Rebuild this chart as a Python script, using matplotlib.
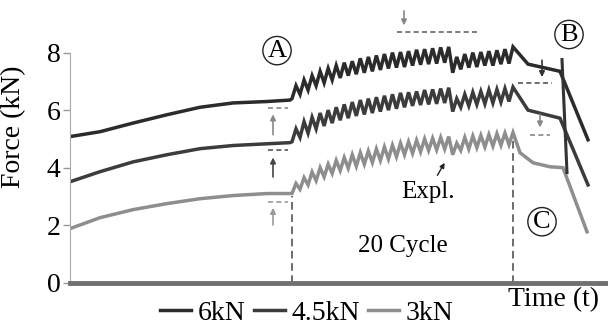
#!/usr/bin/env python3
"""Force vs time schematic for three load levels (6, 4.5 and 3 kN)."""
import matplotlib
matplotlib.use("Agg")
import matplotlib.pyplot as plt
import numpy as np

plt.rcParams["font.family"] = ["Liberation Serif", "DejaVu Serif"]

# ramp-up phase (before cycling)
t_ramp = [0, 30, 63, 97, 130, 163, 197, 220]
f6_ramp = [5.08, 5.25, 5.55, 5.84, 6.10, 6.25, 6.30, 6.35]
f45_ramp = [3.51, 3.86, 4.20, 4.45, 4.66, 4.77, 4.83, 4.87]
f3_ramp = [1.88, 2.26, 2.54, 2.75, 2.92, 3.03, 3.10, 3.10]

# cyclic phase: troughs / peaks of each load cycle
cycle_start, cycle_end = 222, 443
f6_trough = [6.40, 6.55, 6.70, 6.85, 6.95, 7.05, 7.12, 7.20, 7.25, 7.30, 7.35, 7.40, 7.45, 7.48,
             7.50, 7.55, 7.58, 7.60, 7.62, 7.65, 7.30, 7.42, 7.48, 7.50, 7.55, 7.55, 7.60, 7.62]
f6_peak = [6.85, 7.05, 7.20, 7.35, 7.45, 7.55, 7.65, 7.70, 7.80, 7.85, 7.90, 7.95, 8.00, 8.02,
           8.05, 8.10, 8.12, 8.15, 8.18, 8.20, 7.85, 7.95, 8.00, 8.02, 8.05, 8.08, 8.12, 8.20]
f45_trough = [4.90, 5.05, 5.20, 5.35, 5.45, 5.55, 5.65, 5.72, 5.80, 5.85, 5.90, 5.95, 6.00, 6.05,
              6.10, 6.15, 6.18, 6.20, 6.22, 6.25, 5.95, 6.10, 6.15, 6.20, 6.22, 6.25, 6.28, 6.30]
f45_peak = [5.35, 5.60, 5.75, 5.90, 6.00, 6.10, 6.20, 6.28, 6.35, 6.40, 6.45, 6.50, 6.55, 6.60,
            6.62, 6.65, 6.70, 6.72, 6.75, 6.78, 6.40, 6.55, 6.62, 6.65, 6.70, 6.72, 6.75, 6.80]
f3_trough = [3.10, 3.25, 3.40, 3.55, 3.68, 3.80, 3.90, 3.98, 4.05, 4.12, 4.18, 4.25, 4.30, 4.38,
             4.45, 4.50, 4.55, 4.60, 4.62, 4.65, 4.45, 4.60, 4.65, 4.70, 4.72, 4.75, 4.78, 4.80]
f3_peak = [3.45, 3.65, 3.85, 4.00, 4.12, 4.25, 4.35, 4.45, 4.52, 4.58, 4.65, 4.72, 4.78, 4.85,
           4.90, 4.95, 5.00, 5.02, 5.05, 5.08, 4.85, 5.05, 5.10, 5.12, 5.15, 5.18, 5.20, 5.22]

# unloading / failure tail
t6_tail = [458, 490, 518]
f6_tail = [7.60, 7.35, 4.97]
t45_tail = [458, 490, 518]
f45_tail = [6.00, 5.72, 3.40]
t3_tail = [450, 463, 480, 493, 517]
f3_tail = [4.52, 4.17, 4.03, 4.00, 1.77]

labels = ["6kN", "4.5kN", "3kN"]
colors = ["#2b2b2b", "#3c3c3c", "#8e8e8e"]


def interleave(trough, peak):
    out = []
    for a, b in zip(trough, peak):
        out += [a, b]
    return out


n_pts = 2 * len(f6_peak)
t_cycle = np.linspace(cycle_start, cycle_end, n_pts)

series = [
    (f6_ramp, interleave(f6_trough, f6_peak), t6_tail, f6_tail),
    (f45_ramp, interleave(f45_trough, f45_peak), t45_tail, f45_tail),
    (f3_ramp, interleave(f3_trough, f3_peak), t3_tail, f3_tail),
]

fig = plt.figure(figsize=(6.08, 3.27), dpi=100)
ax = fig.add_axes([70 / 608, 40 / 327, 538 / 608, 287 / 327])

for (ramp, cyc, tt, ft), lab, col in zip(series, labels, colors):
    t_all = list(t_ramp) + list(t_cycle) + list(tt)
    f_all = list(ramp) + list(cyc) + list(ft)
    ax.plot(t_all, f_all, color=col, lw=2.5, label=lab, solid_joinstyle="miter")

# sudden drop at B
ax.plot([492, 497], [7.76, 3.83], color="#333333", lw=2.2)

# dashed reference levels and arrows
dash_kw = dict(ls=(0, (3, 2)), lw=1.2)
for lvl, col in zip([6.09, 4.60, 2.82], ["#888888", "#555555", "#999999"]):
    ax.plot([198, 218], [lvl, lvl], color=col, **dash_kw)
for (y0, y1), col in zip([(5.05, 5.95), (3.58, 4.45), (1.91, 2.70)], ["#888888", "#444444", "#999999"]):
    ax.annotate("", xy=(203, y1), xytext=(203, y0),
                arrowprops=dict(arrowstyle="-|>", color=col, lw=1.2, mutation_scale=8))
ax.plot([222, 222], [0, 3.0], color="#444444", ls=(0, (5, 3)), lw=1.1)
ax.plot([443, 443], [0, 4.97], color="#444444", ls=(0, (5, 3)), lw=1.1)
ax.plot([327, 410], [8.73, 8.73], color="#666666", **dash_kw)
ax.annotate("", xy=(334, 8.85), xytext=(334, 9.55),
            arrowprops=dict(arrowstyle="-|>", color="#888888", lw=1.2, mutation_scale=8))
ax.plot([448, 482], [6.96, 6.96], color="#555555", **dash_kw)
ax.annotate("", xy=(472, 7.05), xytext=(472, 7.83),
            arrowprops=dict(arrowstyle="-|>", color="#333333", lw=1.2, mutation_scale=8))
ax.plot([460, 480], [5.15, 5.15], color="#888888", **dash_kw)
ax.annotate("", xy=(470, 5.3), xytext=(470, 5.95),
            arrowprops=dict(arrowstyle="-|>", color="#888888", lw=1.2, mutation_scale=8))

# text annotations
circ = dict(boxstyle="circle,pad=0.12", fc="white", ec="#222222", lw=1.0)
ax.text(207, 8.07, "A", fontsize=19, ha="center", va="center", bbox=circ)
ax.text(499, 8.63, "B", fontsize=19, ha="center", va="center", bbox=circ)
ax.text(472, 2.12, "C", fontsize=19, ha="center", va="center", bbox=circ)
ax.text(358, 3.17, "Expl.", fontsize=18, ha="center", va="center")
ax.annotate("", xy=(376, 4.25), xytext=(366, 3.65),
            arrowprops=dict(arrowstyle="-|>", color="#222222", lw=1.0, mutation_scale=7))
ax.text(333, 1.29, "20 Cycle", fontsize=18, ha="center", va="center")

ax.set_xlim(0, 538)
ax.set_ylim(-0.15, 9.83)
ax.set_yticks([0, 2, 4, 6, 8])
ax.set_xticks([])
ax.tick_params(axis="y", labelsize=20, length=5, width=1, color="#999999", pad=2)
for side in ["top", "right"]:
    ax.spines[side].set_visible(False)
ax.spines["left"].set_bounds(0, 8)
ax.spines["left"].set_color("#aaaaaa")
ax.spines["bottom"].set_position(("data", 0))
ax.spines["bottom"].set_linewidth(3.5)
ax.spines["bottom"].set_color("#707070")
ax.set_ylabel("Force (kN)", fontsize=20)
ax.yaxis.set_label_coords(-0.082, 0.56)

fig.text(553 / 608, 1 - 300 / 327, "Time (t)", fontsize=20, ha="center", va="center")
fig.legend(loc="center", bbox_to_anchor=(307 / 608, 1 - 313 / 327), ncol=3, frameon=False,
           fontsize=20, handlelength=1.1, handletextpad=0.25, columnspacing=0.3,
           borderpad=0, borderaxespad=0)

fig.savefig("out.png", dpi=100)
